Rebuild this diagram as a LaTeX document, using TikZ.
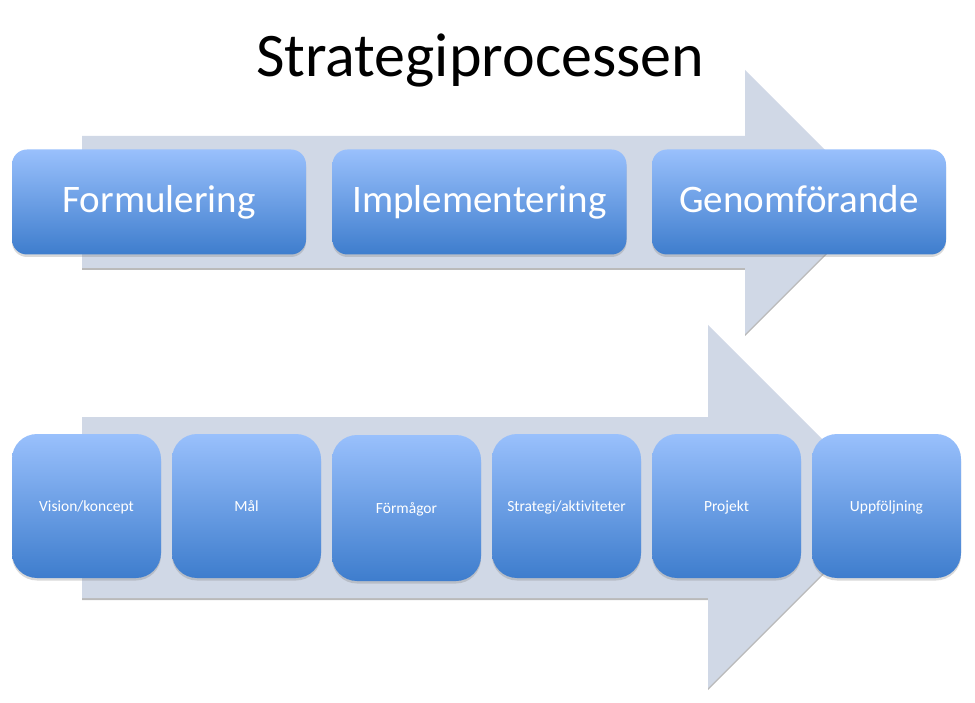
\documentclass[tikz,border=0pt]{standalone}
\usepackage{fontspec}
\setmainfont{Carlito}[Ligatures=NoCommon]
\usetikzlibrary{shadows}
\definecolor{arrowfill}{RGB}{208,216,230}
\definecolor{boxtop}{RGB}{153,192,252}
\definecolor{boxbot}{RGB}{62,125,205}
\tikzset{
  bigarrow/.style={fill=arrowfill, draw=none,
    drop shadow={shadow xshift=0pt, shadow yshift=-2pt, opacity=0.45, fill=black!60}},
  procbox/.style={draw=none, top color=boxtop, bottom color=boxbot,
    text=white, font=\fontsize{39}{42}\selectfont,
    text height=30pt, text depth=8pt,
    minimum width=294pt, minimum height=105pt, rounded corners=15pt,
    drop shadow={shadow xshift=0pt, shadow yshift=-2.5pt, opacity=0.3}},
  stepbox/.style={draw=none, top color=boxtop, bottom color=boxbot,
    text=white, font=\fontsize{15.5}{17}\selectfont,
    text height=12pt, text depth=2pt,
    minimum width=149pt, minimum height=144pt, rounded corners=25pt,
    drop shadow={shadow xshift=0pt, shadow yshift=-2.5pt, opacity=0.3}},
}
\begin{document}
\begin{tikzpicture}[x=1pt,y=-1pt]
\useasboundingbox (0,0) rectangle (975,703);
% title
\node[font=\fontsize{62}{70}\selectfont, text=black] (title) at (480,61) {Strategiprocessen};
% arrows
\path[bigarrow] (82,136) -- (745,136) -- (745,70) -- (877,202) -- (745,334) -- (745,268) -- (82,268) -- cycle;
\path[bigarrow] (82,417) -- (708,417) -- (708,325) -- (889.5,506.5) -- (708,688) -- (708,598) -- (82,598) -- cycle;
% top boxes
\node[procbox] (form) at (159,202) {Formulering};
\node[procbox] (impl) at (479.5,202) {Implementering};
\node[procbox] (genf) at (799,202) {Genomförande};
% bottom boxes
\node[stepbox] (vis) at (86.5,506) {Vision/koncept};
\node[stepbox] (mal) at (246.5,506) {Mål};
\node[stepbox, minimum height=146pt] (form2) at (406.5,508) {Förmågor};
\node[stepbox] (strat) at (566.5,506) {Strategi/aktiviteter};
\node[stepbox] (proj) at (726.5,506) {Projekt};
\node[stepbox] (uppf) at (886.5,506) {Uppföljning};
\end{tikzpicture}
\end{document}
